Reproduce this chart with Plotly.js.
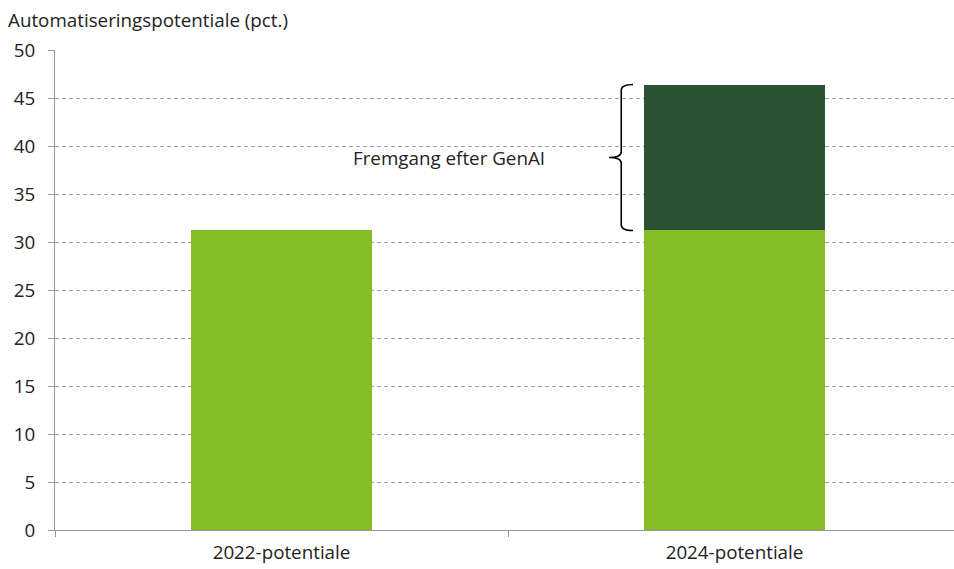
<!DOCTYPE html>
<html>
<head>
<meta charset="utf-8">
<script src="https://cdn.plot.ly/plotly-3.0.1.min.js"></script>
<style>
html,body{margin:0;padding:0;overflow:hidden;background:#fff;}
#chart{width:965px;height:569px;}
</style>
</head>
<body>
<div id="chart"></div>
<script>
const categories = ["2022-potentiale", "2024-potentiale"];
const basePotential = [31.2, 31.2];
const genAIGain = [null, 15.2];
const yTicks = [0, 5, 10, 15, 20, 25, 30, 35, 40, 45, 50];
const yTitle = "Automatiseringspotentiale (pct.)";
const braceLabel = "Fremgang efter GenAI";

const lightGreen = "#86BC25";
const darkGreen = "#2C5234";
const font = {family: "Open Sans, Noto Sans, sans-serif", size: 18.8, color: "#222"};

const y0 = basePotential[1];
const y1 = basePotential[1] + genAIGain[1];
const mid = (y0 + y1) / 2;
const c = 0.6;
const xe = 0.638, xv = 0.625, xt = 0.6115;
const bracePath =
  `M ${xe},${y1} Q ${xv},${y1} ${xv},${y1 - c} L ${xv},${mid + c} Q ${xv},${mid} ${xt},${mid} ` +
  `Q ${xv},${mid} ${xv},${mid - c} L ${xv},${y0 + c} Q ${xv},${y0} ${xe},${y0}`;

const traces = [
  {type: "bar", x: categories, y: basePotential, marker: {color: lightGreen}, width: 0.4, hoverinfo: "skip"},
  {type: "bar", x: categories, y: genAIGain, marker: {color: darkGreen}, width: 0.4, hoverinfo: "skip"}
];

const layout = {
  width: 965, height: 569,
  margin: {l: 55, r: 4, t: 50, b: 39, pad: 0},
  paper_bgcolor: "#fff", plot_bgcolor: "#fff",
  barmode: "stack", showlegend: false,
  font: font,
  title: {text: yTitle, font: font, x: 8 / 965, xref: "container", xanchor: "left",
          y: 1 - 20 / 569, yref: "container", yanchor: "middle"},
  xaxis: {
    type: "category", tickson: "boundaries", ticks: "outside", ticklen: 6, tickcolor: "#999",
    ticklabelstandoff: 5,
    showline: true, linecolor: "#999", linewidth: 1, showgrid: false, zeroline: false,
    tickfont: font, fixedrange: true
  },
  yaxis: {
    range: [0, 50], tickvals: yTicks, ticktext: yTicks.map(String),
    ticks: "outside", ticklen: 6, tickcolor: "#999", ticklabelstandoff: 9,
    showline: true, linecolor: "#999", linewidth: 1,
    showgrid: true, gridcolor: "#a0a0a0", griddash: "4px,3px", gridwidth: 1,
    zeroline: false, tickfont: font, fixedrange: true
  },
  shapes: [{type: "path", xref: "paper", yref: "y", path: bracePath, line: {color: "#000", width: 1.6}}],
  annotations: [{xref: "paper", yref: "y", x: 0.435, y: mid, text: braceLabel, showarrow: false,
    xanchor: "center", yanchor: "middle", font: font}]
};

Plotly.newPlot("chart", traces, layout, {displayModeBar: false, staticPlot: true});
</script>
</body>
</html>
